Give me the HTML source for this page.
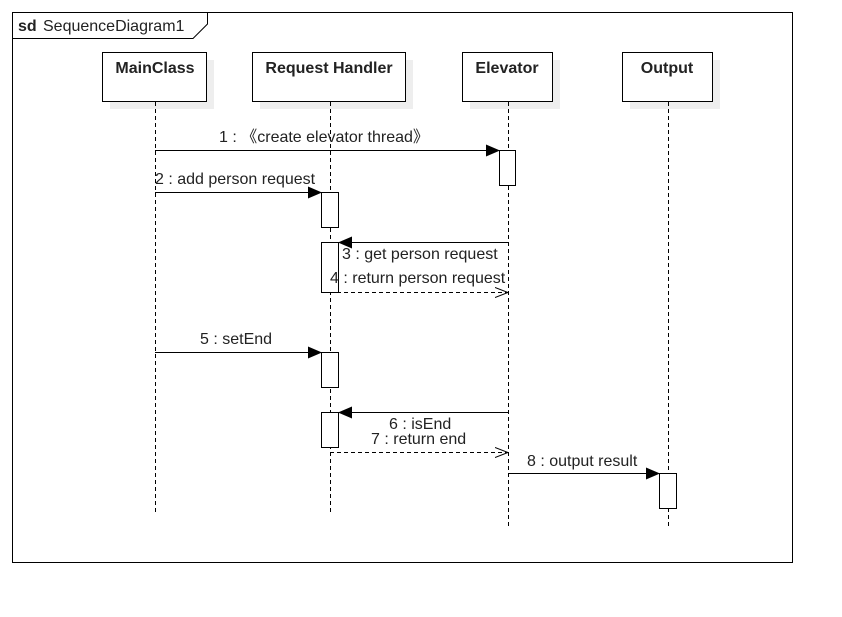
<!DOCTYPE html>
<html><head><meta charset="utf-8"><style>
body{margin:0;background:#fff;}
svg text{font-family:"Liberation Sans","Noto Sans CJK SC",sans-serif;font-size:16px;fill:#222;}
</style></head><body>
<svg width="842" height="612" xmlns="http://www.w3.org/2000/svg">
<defs>
<marker id="f" markerWidth="14" markerHeight="12" refX="13" refY="6" orient="auto" markerUnits="userSpaceOnUse"><path d="M0,0 L14,6 L0,12 Z" fill="#000"/></marker>
<marker id="o" markerWidth="14" markerHeight="12" refX="13" refY="6" orient="auto" markerUnits="userSpaceOnUse"><path d="M0,1 L13,6 L0,11" fill="none" stroke="#000"/></marker>
</defs>
<rect x="12.5" y="12.5" width="780" height="550" fill="none" stroke="#000"/>
<path d="M12.5,38.5 H193 L207.5,24 V12.5" fill="none" stroke="#000"/>
<text x="18" y="31" style="font-weight:bold">sd</text><text x="43" y="31">SequenceDiagram1</text>
<g fill="#eee"><rect x="110" y="60" width="104" height="49"/><rect x="260" y="60" width="153" height="49"/><rect x="470" y="60" width="90" height="49"/><rect x="630" y="60" width="90" height="49"/></g>
<g fill="#fff" stroke="#000"><rect x="102.5" y="52.5" width="104" height="49"/><rect x="252.5" y="52.5" width="153" height="49"/><rect x="462.5" y="52.5" width="90" height="49"/><rect x="622.5" y="52.5" width="90" height="49"/></g>
<g style="font-weight:bold" text-anchor="middle"><text x="155" y="73">MainClass</text><text x="329" y="73">Request Handler</text><text x="507" y="73">Elevator</text><text x="667" y="73">Output</text></g>
<g stroke="#000" stroke-dasharray="4,3"><line x1="155.5" y1="102" x2="155.5" y2="512"/><line x1="330.5" y1="102" x2="330.5" y2="512"/><line x1="508.5" y1="102" x2="508.5" y2="526"/><line x1="668.5" y1="102" x2="668.5" y2="526"/></g>
<g fill="#fff" stroke="#000"><rect x="499.5" y="150.5" width="16" height="35"/><rect x="321.5" y="192.5" width="17" height="35"/><rect x="321.5" y="242.5" width="17" height="50"/><rect x="321.5" y="352.5" width="17" height="35"/><rect x="321.5" y="412.5" width="17" height="35"/><rect x="659.5" y="473.5" width="17" height="35"/></g>
<g stroke="#000" fill="none">
<line x1="155" y1="150.5" x2="499" y2="150.5" marker-end="url(#f)"/>
<line x1="155" y1="192.5" x2="321" y2="192.5" marker-end="url(#f)"/>
<line x1="508" y1="242.5" x2="339" y2="242.5" marker-end="url(#f)"/>
<line x1="330" y1="292.5" x2="508" y2="292.5" stroke-dasharray="4,3" marker-end="url(#o)"/>
<line x1="155" y1="352.5" x2="321" y2="352.5" marker-end="url(#f)"/>
<line x1="508" y1="412.5" x2="339" y2="412.5" marker-end="url(#f)"/>
<line x1="330" y1="452.5" x2="508" y2="452.5" stroke-dasharray="4,3" marker-end="url(#o)"/>
<line x1="508" y1="473.5" x2="659" y2="473.5" marker-end="url(#f)"/>
</g>
<text x="219" y="142">1 : 《create elevator thread》</text>
<text x="155" y="184">2 : add person request</text>
<text x="342" y="259">3 : get person request</text>
<text x="330" y="283">4 : return person request</text>
<text x="200" y="344">5 : setEnd</text>
<text x="389" y="429">6 : isEnd</text>
<text x="371" y="444">7 : return end</text>
<text x="527" y="466">8 : output result</text>
</svg>
</body></html>
